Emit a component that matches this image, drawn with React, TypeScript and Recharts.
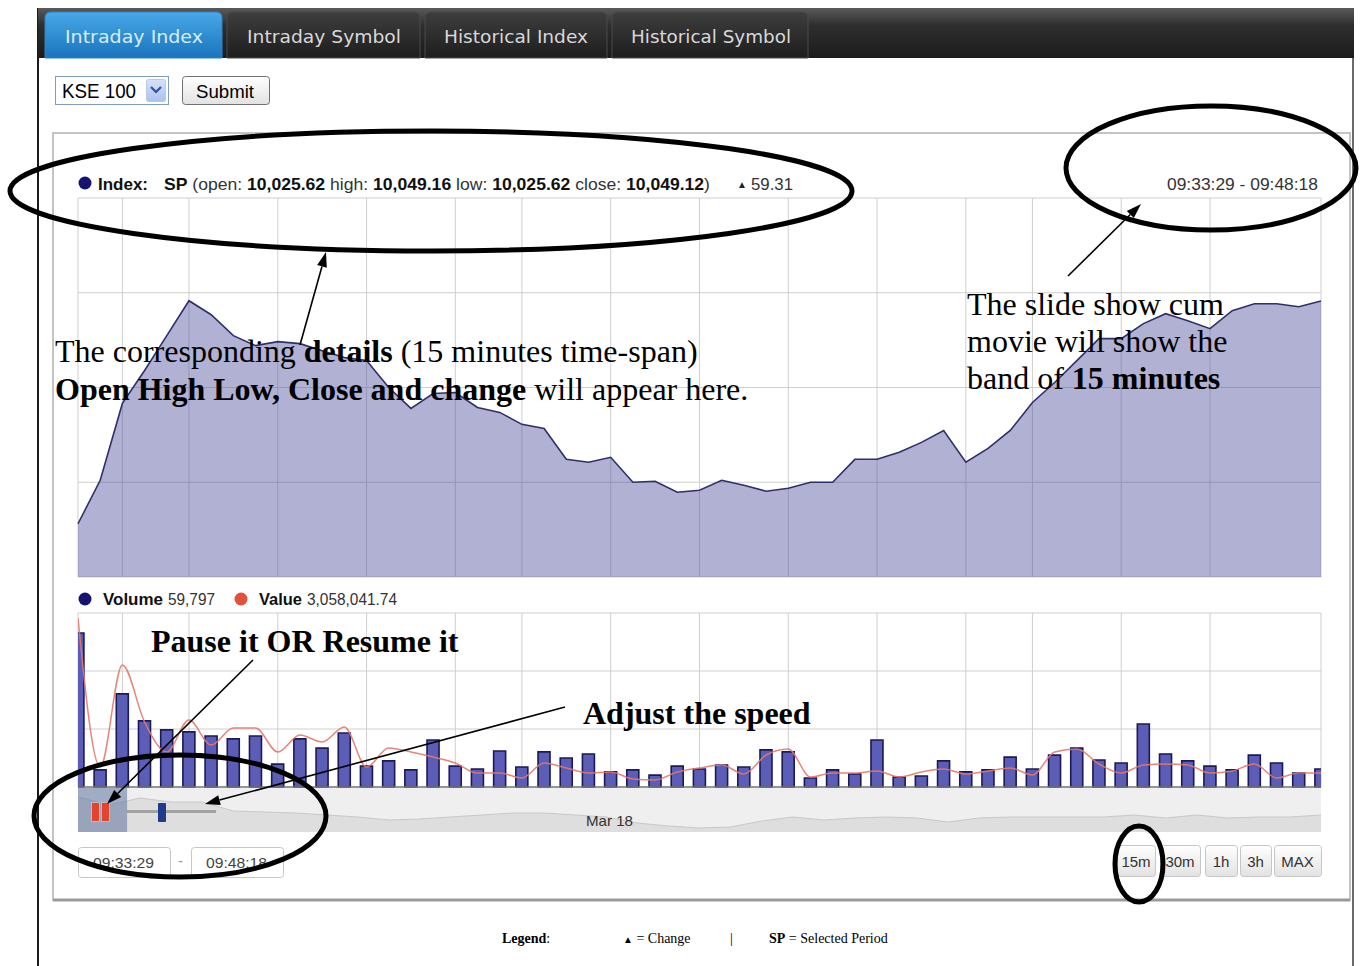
import React from 'react';
import { AreaChart, Area, ComposedChart, Bar, Line, XAxis, YAxis, CartesianGrid, ReferenceArea, ReferenceLine } from 'recharts';

// ---------- data ----------
const indexValues = [
  10025.62, 10030.21, 10038.32, 10041.79, 10045.47, 10049.16, 10047.68, 10045.47, 10044.42, 10044.84,
  10044.63, 10043.89, 10043.16, 10042.84, 10040.0, 10037.79, 10039.37, 10039.47, 10037.89, 10037.37,
  10036.11, 10035.68, 10032.42, 10032.11, 10032.63, 10030.0, 10030.11, 10028.95, 10029.16, 10030.21,
  10029.68, 10029.05, 10029.37, 10030.0, 10030.0, 10032.42, 10032.42, 10033.16, 10034.21, 10035.47,
  10032.11, 10033.58, 10035.47, 10038.42, 10040.53, 10042.84, 10045.16, 10045.16, 10046.74, 10047.79,
  10047.05, 10046.21, 10048.11, 10048.84, 10048.84, 10048.53, 10049.12,
];
const volumeValues = [
  5310, 590, 3210, 2280, 1970, 1900, 1760, 1660, 1760, 790,
  1660, 1340, 1860, 720, 900, 590, 1620, 720, 620, 1240,
  690, 1210, 1000, 1140, 520, 590, 410, 720, 620, 760,
  690, 1280, 1210, 310, 590, 450, 1620, 340, 380, 900,
  520, 590, 1030, 620, 1100, 1340, 930, 830, 2170, 1140,
  900, 720, 590, 1100, 830, 480, 620,
];
const tradeValues = [
  310800, 36800, 224400, 119500, 64400, 123200, 77200, 108500, 108500, 64400,
  95600, 82800, 110300, 36800, 71700, 64400, 55200, 44100, 25700, 25700,
  16600, 44100, 34900, 25700, 27600, 14700, 12900, 27600, 34900, 40500,
  23900, 58800, 69900, 18400, 25700, 25700, 29400, 18400, 27600, 33100,
  23900, 29400, 34900, 22100, 64400, 69900, 42300, 25700, 40500, 42300,
  40500, 25700, 29400, 42300, 16600, 25700, 25700,
];
const navigatorValues = [
  10052.5, 10040.5, 10051, 10045, 10045, 10031.5, 10030, 10028.5, 10025.5, 10022.5,
  10018, 10019.5, 10022.5, 10025.5, 10028.5, 10028.5, 10025.5, 10022.5, 10013.5, 10009,
  10006, 10007.5, 10016.5, 10022.5, 10018, 10021, 10022.5, 10021, 10015, 10021,
  10022.5, 10022.5, 10022.5, 10022.5, 10025.5, 10021, 10025.5, 10021, 10022.5, 10022.5,
  10025.5,
];
const minuteTicks = [0, 2, 5, 9, 13, 17, 20, 24, 28, 32, 36, 40, 43, 47, 51, 55, 56];
const indexTicks = [10020, 10030, 10040, 10050, 10060];
const volumeTicks = [0, 2000, 4000, 6000];
const tabLabels = ['Intraday Index', 'Intraday Symbol', 'Historical Index', 'Historical Symbol'];
const rangeLabels = ['15m', '30m', '1h', '3h', 'MAX'];

const seriesData = indexValues.map((v, i) => ({ i, index: v, volume: volumeValues[i], value: tradeValues[i] }));
const navData = navigatorValues.map((v, j) => ({ j, nav: v }));

// ---------- layout (styles only) ----------
const tabBoxes = [
  { x: 45, w: 177, tx: 65, tl: 138 },
  { x: 227, w: 193, tx: 247, tl: 154 },
  { x: 425, w: 182, tx: 444, tl: 144 },
  { x: 612, w: 196, tx: 631, tl: 160 },
];
const rangeBoxes = [
  { x: 1117, w: 38 },
  { x: 1160, w: 40 },
  { x: 1205, w: 32 },
  { x: 1240, w: 31 },
  { x: 1274, w: 47 },
];

const SANS = '"Liberation Sans", Arial, sans-serif';
const SERIF = '"Liberation Serif", "Times New Roman", serif';

function tabPath(x: number, w: number) {
  const y = 12, h = 46, r = 6;
  return `M${x},${y + h} L${x},${y + r} Q${x},${y} ${x + r},${y} L${x + w - r},${y} Q${x + w},${y} ${x + w},${y + r} L${x + w},${y + h} Z`;
}

function head(x1: number, y1: number, x2: number, y2: number, len = 15, half = 5) {
  const dx = x2 - x1, dy = y2 - y1, d = Math.hypot(dx, dy);
  const ux = dx / d, uy = dy / d;
  const bx = x2 - ux * len, by = y2 - uy * len;
  return { pts: `${x2},${y2} ${bx - uy * half},${by + ux * half} ${bx + uy * half},${by - ux * half}`, bx, by };
}

function Arrow({ x1, y1, x2, y2 }: { x1: number; y1: number; x2: number; y2: number }) {
  const h = head(x1, y1, x2, y2);
  return (
    <g>
      <line x1={x1} y1={y1} x2={h.bx} y2={h.by} stroke="#000" strokeWidth={1.6} />
      <polygon points={h.pts} fill="#000" />
    </g>
  );
}

export default function App() {
  return (
    <div style={{ position: 'absolute', left: 0, top: 0, width: 1361, height: 966, background: '#fff', overflow: 'hidden' }}>
      {/* base layer */}
      <svg width={1361} height={966} style={{ position: 'absolute', left: 0, top: 0 }}>
        <defs>
          <linearGradient id="barG" x1="0" y1="0" x2="0" y2="1">
            <stop offset="0" stopColor="#5a5a5a" />
            <stop offset="0.35" stopColor="#2e2e2e" />
            <stop offset="1" stopColor="#1b1b1b" />
          </linearGradient>
          <linearGradient id="blueG" x1="0" y1="0" x2="0" y2="1">
            <stop offset="0" stopColor="#48a8e8" />
            <stop offset="1" stopColor="#1a74bc" />
          </linearGradient>
          <linearGradient id="darkG" x1="0" y1="0" x2="0" y2="1">
            <stop offset="0" stopColor="#3e3e3e" />
            <stop offset="1" stopColor="#1d1d1d" />
          </linearGradient>
          <linearGradient id="btnG" x1="0" y1="0" x2="0" y2="1">
            <stop offset="0" stopColor="#ffffff" />
            <stop offset="1" stopColor="#e2e2e2" />
          </linearGradient>
          <linearGradient id="ddG" x1="0" y1="0" x2="0" y2="1">
            <stop offset="0" stopColor="#d6e2f8" />
            <stop offset="1" stopColor="#aac2ee" />
          </linearGradient>
        </defs>
        {/* page frame */}
        <rect x={37} y={8} width={2} height={958} fill="#1a1a1a" />
        <rect x={1352} y={8} width={2} height={958} fill="#6a6a6a" />
        <rect x={38} y={8} width={1316} height={50} fill="url(#barG)" />
        {tabBoxes.map((t, k) => (
          <g key={k}>
            <path d={tabPath(t.x, t.w)} fill={k === 0 ? 'url(#blueG)' : 'url(#darkG)'} stroke={k === 0 ? '#2a86cc' : '#4a4a4a'} strokeWidth={1} />
            <text x={t.tx} y={43} fontFamily='"DejaVu Sans", sans-serif' fontSize={18} fill={k === 0 ? '#d6eefc' : '#d8d8d8'} textLength={t.tl} lengthAdjust="spacingAndGlyphs">{tabLabels[k]}</text>
          </g>
        ))}
        {/* select + submit */}
        <rect x={55.5} y={76.5} width={113} height={28} fill="#fff" stroke="#7f9db9" />
        <text x={62} y={98} fontFamily={SANS} fontSize={20} fill="#000" textLength={74} lengthAdjust="spacingAndGlyphs">KSE 100</text>
        <rect x={146.5} y={79.5} width={19} height={22} rx={2} fill="url(#ddG)" stroke="#b8c8e8" />
        <path d="M151,87 L156,92 L161,87" fill="none" stroke="#3050a0" strokeWidth={2.2} />
        <rect x={182.5} y={76.5} width={87} height={28} rx={3} fill="url(#btnG)" stroke="#707070" />
        <text x={196} y={98} fontFamily={SANS} fontSize={19} fill="#000" textLength={58} lengthAdjust="spacingAndGlyphs">Submit</text>
        {/* chart container */}
        <rect x={53} y={133} width={1297} height={767} fill="#fff" stroke="#c4c4c4" strokeWidth={2} />
        <line x1={53} y1={900} x2={1350} y2={900} stroke="#9a9a9a" strokeWidth={3} />
        {/* navigator background */}
        <rect x={78} y={788} width={1243} height={44} fill="#efefef" />
        {/* time inputs */}
        <rect x={78.5} y={847.5} width={92} height={30} rx={3} fill="#fff" stroke="#c6c6c6" />
        <text x={93} y={868} fontFamily={SANS} fontSize={15} fill="#444" textLength={61} lengthAdjust="spacingAndGlyphs">09:33:29</text>
        <text x={178} y={866} fontFamily={SANS} fontSize={15} fill="#999">-</text>
        <rect x={191.5} y={847.5} width={92} height={30} rx={3} fill="#fff" stroke="#c6c6c6" />
        <text x={206} y={868} fontFamily={SANS} fontSize={15} fill="#444" textLength={61} lengthAdjust="spacingAndGlyphs">09:48:18</text>
        {/* range buttons */}
        {rangeBoxes.map((b, k) => (
          <g key={k}>
            <rect x={b.x + 0.5} y={845.5} width={b.w} height={31} rx={3} fill="url(#btnG)" stroke="#c6c6c6" />
            <text x={b.x + b.w / 2} y={867} textAnchor="middle" fontFamily={SANS} fontSize={15} fill="#333">{rangeLabels[k]}</text>
          </g>
        ))}
        {/* bottom legend */}
        <text x={502} y={943} fontFamily={SERIF} fontSize={14} fill="#000"><tspan fontWeight="bold">Legend</tspan>:</text>
        <text x={623} y={943} fontFamily={SERIF} fontSize={14} fill="#000"><tspan fontSize={10}>▲</tspan> = Change</text>
        <text x={730} y={943} fontFamily={SERIF} fontSize={14} fill="#000">|</text>
        <text x={769} y={943} fontFamily={SERIF} fontSize={14} fill="#000"><tspan fontWeight="bold">SP</tspan> = Selected Period</text>
      </svg>

      {/* main index chart */}
      <div style={{ position: 'absolute', left: 77, top: 197 }}>
        <AreaChart width={1245} height={381} data={seriesData} margin={{ top: 1, right: 1, bottom: 1, left: 1 }}>
          <CartesianGrid stroke="#cfcfcf" strokeWidth={1} />
          <XAxis dataKey="i" type="number" domain={[0, 56]} ticks={minuteTicks} hide />
          <YAxis domain={[10020, 10060]} ticks={indexTicks} hide />
          <Area dataKey="index" type="linear" stroke="#2f2f6a" strokeWidth={1.6} fill="#4b4b9b" fillOpacity={0.43} isAnimationActive={false} />
        </AreaChart>
      </div>

      {/* volume / value chart */}
      <div style={{ position: 'absolute', left: 77, top: 612 }}>
        <ComposedChart width={1245} height={176} data={seriesData} margin={{ top: 1, right: 1, bottom: 1, left: 1 }}>
          <CartesianGrid stroke="#cfcfcf" strokeWidth={1} yAxisId="vol" />
          <XAxis dataKey="i" type="number" domain={[0, 56]} ticks={minuteTicks} hide allowDataOverflow />
          <YAxis yAxisId="vol" domain={[0, 6000]} ticks={volumeTicks} hide />
          <YAxis yAxisId="val" orientation="right" domain={[0, 320000]} hide />
          <Bar yAxisId="vol" dataKey="volume" barSize={12} fill="#5b5db6" stroke="#1a1a58" strokeWidth={1.6} isAnimationActive={false} />
          <Line yAxisId="val" dataKey="value" type="monotone" stroke="#e4786c" strokeOpacity={0.9} strokeWidth={1.5} dot={false} isAnimationActive={false} />
          <ReferenceLine yAxisId="vol" y={0} stroke="#7a7a7a" strokeWidth={1.5} />
        </ComposedChart>
      </div>

      {/* navigator */}
      <div style={{ position: 'absolute', left: 78, top: 788 }}>
        <AreaChart width={1243} height={44} data={navData} margin={{ top: 0, right: 0, bottom: 0, left: 0 }}>
          <XAxis dataKey="j" type="number" domain={[0, 40]} hide />
          <YAxis domain={[10000, 10066]} hide />
          <Area dataKey="nav" type="linear" stroke="#c8c8c8" strokeWidth={1} fill="#dedede" fillOpacity={1} isAnimationActive={false} />
          <ReferenceArea x1={0} x2={1.58} fill="#5f74a0" fillOpacity={0.55} stroke="none" />
        </AreaChart>
      </div>

      {/* overlay: texts, controls, annotations */}
      <svg width={1361} height={966} style={{ position: 'absolute', left: 0, top: 0, pointerEvents: 'none' }}>
        {/* header */}
        <circle cx={85} cy={183} r={6.5} fill="#141470" />
        <text x={98} y={190} fontFamily={SANS} fontSize={17} fontWeight="bold" fill="#111" textLength={50} lengthAdjust="spacingAndGlyphs">Index:</text>
        <text x={164} y={190} fontFamily={SANS} fontSize={17} fill="#333" textLength={546} lengthAdjust="spacingAndGlyphs">
          <tspan fontWeight="bold" fill="#111">SP</tspan> (open: <tspan fontWeight="bold" fill="#111">10,025.62</tspan> high: <tspan fontWeight="bold" fill="#111">10,049.16</tspan> low: <tspan fontWeight="bold" fill="#111">10,025.62</tspan> close: <tspan fontWeight="bold" fill="#111">10,049.12</tspan>)
        </text>
        <text x={737} y={188} fontFamily={SANS} fontSize={10} fill="#222">▲</text>
        <text x={751} y={190} fontFamily={SANS} fontSize={17} fill="#333" textLength={42} lengthAdjust="spacingAndGlyphs">59.31</text>
        <text x={1167} y={190} fontFamily={SANS} fontSize={17} fill="#333" textLength={151} lengthAdjust="spacingAndGlyphs">09:33:29 - 09:48:18</text>

        {/* volume legend */}
        <circle cx={85} cy={599} r={6.5} fill="#141470" />
        <text x={103} y={605} fontFamily={SANS} fontSize={16} fontWeight="bold" fill="#111" textLength={60} lengthAdjust="spacingAndGlyphs">Volume</text>
        <text x={168} y={605} fontFamily={SANS} fontSize={16} fill="#333" textLength={47} lengthAdjust="spacingAndGlyphs">59,797</text>
        <circle cx={241} cy={599} r={6.5} fill="#e2513c" />
        <text x={259} y={605} fontFamily={SANS} fontSize={16} fontWeight="bold" fill="#111" textLength={43} lengthAdjust="spacingAndGlyphs">Value</text>
        <text x={307} y={605} fontFamily={SANS} fontSize={16} fill="#333" textLength={90} lengthAdjust="spacingAndGlyphs">3,058,041.74</text>

        {/* navigator controls */}
        <text x={586} y={826} fontFamily={SANS} fontSize={14.5} fill="#333" textLength={47} lengthAdjust="spacingAndGlyphs">Mar 18</text>
        <rect x={91.5} y={802.5} width={8} height={19} fill="#e2452c" stroke="#c8c8d0" strokeWidth={0.8} />
        <rect x={101.5} y={802.5} width={8} height={19} fill="#e2452c" stroke="#c8c8d0" strokeWidth={0.8} />
        <rect x={126} y={810} width={90} height={3} fill="#a2a2a2" />
        <rect x={158} y={803} width={8} height={19} rx={1} fill="#1d3c8a" />

        {/* annotations */}
        <ellipse cx={431} cy={191} rx={421} ry={60} fill="none" stroke="#000" strokeWidth={5} />
        <ellipse cx={1211} cy={168} rx={145} ry={62} fill="none" stroke="#000" strokeWidth={5} />
        <ellipse cx={180} cy={816} rx={146} ry={61} fill="none" stroke="#000" strokeWidth={5} />
        <ellipse cx={1139} cy={864} rx={24} ry={38} fill="none" stroke="#000" strokeWidth={5} />
        <Arrow x1={300} y1={345} x2={326} y2={252} />
        <Arrow x1={1068} y1={276} x2={1141} y2={204} />
        <Arrow x1={253} y1={660} x2={107} y2={804} />
        <Arrow x1={565} y1={707} x2={205} y2={804} />

        <text x={55} y={362} fontFamily={SERIF} fontSize={32} fill="#000">The corresponding <tspan fontWeight="bold">details</tspan> (15 minutes time-span)</text>
        <text x={55} y={400} fontFamily={SERIF} fontSize={32} fill="#000"><tspan fontWeight="bold">Open High Low, Close and change</tspan> will appear here.</text>
        <text x={967} y={315} fontFamily={SERIF} fontSize={32} fill="#000">The slide show cum</text>
        <text x={967} y={352} fontFamily={SERIF} fontSize={32} fill="#000">movie will show the</text>
        <text x={967} y={389} fontFamily={SERIF} fontSize={32} fill="#000">band of <tspan fontWeight="bold">15 minutes</tspan></text>
        <text x={151} y={652} fontFamily={SERIF} fontSize={32} fontWeight="bold" fill="#000">Pause it OR Resume it</text>
        <text x={583} y={724} fontFamily={SERIF} fontSize={32} fontWeight="bold" fill="#000">Adjust the speed</text>
      </svg>
    </div>
  );
}
